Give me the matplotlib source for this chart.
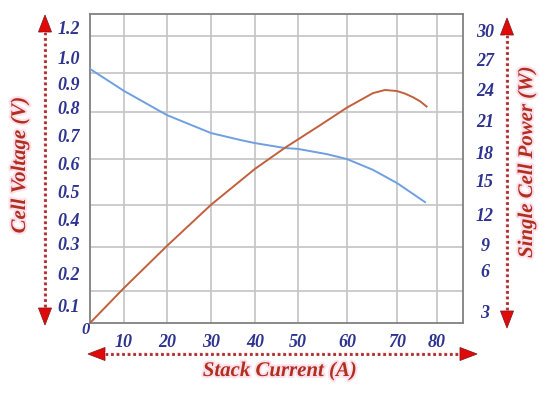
import numpy as np
import matplotlib
matplotlib.use("Agg")
import matplotlib.pyplot as plt
from matplotlib.lines import Line2D
from matplotlib.patches import Polygon
import matplotlib.patheffects as pe

# ---------------- data ----------------
current_ticks = [10, 20, 30, 40, 50, 60, 70, 80]
current_tick_labels = ["10", "20", "30", "40", "50", "60", "70", "80"]
voltage_ticks = [0.1, 0.2, 0.3, 0.4, 0.5, 0.6, 0.7, 0.8, 0.9, 1.0, 1.2]
voltage_tick_labels = ["0.1", "0.2", "0.3", "0.4", "0.5", "0.6", "0.7", "0.8", "0.9", "1.0", "1.2"]
power_ticks = [3, 6, 9, 12, 15, 18, 21, 24, 27, 30]
power_tick_labels = ["3", "6", "9", "12", "15", "18", "21", "24", "27", "30"]

voltage_current = [0, 10, 20, 30, 36.6, 40, 47, 50, 55.9, 60, 65.2, 70, 77]
cell_voltage = [0.954, 0.867, 0.771, 0.707, 0.683, 0.672, 0.655, 0.652, 0.634, 0.617, 0.579, 0.532, 0.464]

power_current = [0, 10, 20, 30, 40, 47, 54.5, 60, 62.6, 65.2, 67.6, 70, 72, 74, 75.8, 77.4]
cell_power = [0, 4.76, 8.9, 12.9, 16.3, 18.5, 20.6, 22.3, 23.0, 23.7, 24.0, 23.9, 23.65, 23.3, 22.9, 22.4]

# ---------------- layout (pixels of a 550x396 canvas) ----------------
W, H = 550, 396
AX_L, AX_R, AX_T, AX_B = 90, 463, 14, 323

# irregular axis scales of the original picture: value -> pixel anchors
x_anchor_vals = [0, 10, 20, 30, 40, 50, 60, 70, 80, 86]
x_anchor_px = [90, 124, 167, 211, 255, 298, 347, 397, 437, 463]
vl_anchor_vals = [0, 0.1, 0.2, 0.3, 0.4, 0.5, 0.6, 0.7, 0.8, 0.9, 1.0, 1.2, 1.3]
vl_anchor_px = [323, 305, 273, 244, 220, 192, 164, 135, 107, 83, 57, 28, 14]
pw_anchor_vals = [0, 3, 6, 9, 12, 15, 18, 21, 24, 27, 30, 31.8]
pw_anchor_px = [323, 312, 271, 245, 215, 181, 153, 121, 90, 60, 31, 14]
hgrid_px = [36, 73, 112, 159, 205, 247, 291]

NAVY = "#2d338f"
TITLE = "#b0301e"
GLOW = [pe.withStroke(linewidth=3, foreground="#ffe1ee")]

plt.rcParams["font.family"] = ["Liberation Serif", "DejaVu Serif"]
plt.rcParams["font.weight"] = "bold"
plt.rcParams["font.style"] = "italic"


def piecewise(vals, pos):
    vals = np.asarray(vals, float)
    pos = np.asarray(pos, float)

    def _map(v, a, b):
        v = np.asarray(v, float)
        out = np.interp(v, a, b)
        s0 = (b[1] - b[0]) / (a[1] - a[0])
        s1 = (b[-1] - b[-2]) / (a[-1] - a[-2])
        out = np.where(v < a[0], b[0] + (v - a[0]) * s0, out)
        out = np.where(v > a[-1], b[-1] + (v - a[-1]) * s1, out)
        return out

    return (lambda v: _map(v, vals, pos)), (lambda p: _map(p, pos, vals))


fx, ix = piecewise(x_anchor_vals, x_anchor_px)
fl, il = piecewise(vl_anchor_vals, [H - p for p in vl_anchor_px])
fr, ir = piecewise(pw_anchor_vals, [H - p for p in pw_anchor_px])

fig = plt.figure(figsize=(W / 100, H / 100), dpi=100)
ax = fig.add_axes([AX_L / W, 1 - AX_B / H, (AX_R - AX_L) / W, (AX_B - AX_T) / H])
ax.set_xscale("function", functions=(fx, ix))
ax.set_yscale("function", functions=(fl, il))
ax.set_xlim(x_anchor_vals[0], x_anchor_vals[-1])
ax.set_ylim(vl_anchor_vals[0], vl_anchor_vals[-1])

ax2 = ax.twinx()
ax2.set_yscale("function", functions=(fr, ir))
ax2.set_ylim(pw_anchor_vals[0], pw_anchor_vals[-1])

# ticks
ax.set_xticks(current_ticks, current_tick_labels)
ax.set_yticks(voltage_ticks, voltage_tick_labels)
ax.set_yticks(il(H - np.array(hgrid_px, float)), minor=True)
ax.xaxis.set_minor_locator(matplotlib.ticker.NullLocator())
ax2.set_yticks(power_ticks, power_tick_labels)
ax2.yaxis.set_minor_locator(matplotlib.ticker.NullLocator())

ax.tick_params(axis="x", which="both", length=0, pad=8, labelsize=13, labelcolor=NAVY)
ax.tick_params(axis="y", which="both", length=0, pad=7, labelsize=13, labelcolor=NAVY)
ax2.tick_params(axis="y", which="both", length=0, pad=15.8, labelsize=13, labelcolor=NAVY)
for lab in ax2.get_yticklabels():
    lab.set_ha("center")

# grid
ax.grid(axis="x", which="major", color="#c4c4c4", lw=1.2)
ax.grid(axis="y", which="major", visible=False)
ax.grid(axis="y", which="minor", color="#c4c4c4", lw=1.2)
ax.set_axisbelow(True)

for s in ax.spines.values():
    s.set_color("#808080")
    s.set_linewidth(1.3)
for s in ax2.spines.values():
    s.set_visible(False)

# curves
ax.plot(voltage_current, cell_voltage, color="#6f9fe0", lw=1.4, zorder=3)
ax2.plot(power_current, cell_power, color="#c2603e", lw=1.4, zorder=3)

# texts
def ftext(x, y, s, **kw):
    return fig.text(x / W, 1 - y / H, s, **kw)

ftext(86, 330, "0", ha="center", va="center", fontsize=12, color=NAVY)
ftext(20, 165, "Cell Voltage (V)", rotation=90, ha="center", va="center",
      fontsize=15, color=TITLE, path_effects=GLOW)
ftext(527, 162, "Single Cell Power (W)", rotation=90, ha="center", va="center",
      fontsize=15, color=TITLE, path_effects=GLOW)
ftext(280, 371, "Stack Current (A)", ha="center", va="center",
      fontsize=15, color=TITLE, path_effects=GLOW)


def double_arrow(p0, p1, L=17, w=13):
    p0 = np.array(p0, float)
    p1 = np.array(p1, float)
    d = (p1 - p0) / np.linalg.norm(p1 - p0)
    n = np.array([-d[1], d[0]])
    b0 = p0 + d * L
    b1 = p1 - d * L
    conv = lambda pts: [(x / W, 1 - y / H) for x, y in pts]
    fig.add_artist(Line2D(*zip(*conv([b0, b1])), transform=fig.transFigure,
                          color="#a8302a", lw=2.0, ls=(0, (1.0, 1.0)),
                          path_effects=GLOW))
    for tip, base in ((p0, b0), (p1, b1)):
        tri = conv([tip, base + n * w / 2, base - n * w / 2])
        fig.add_artist(Polygon(tri, closed=True, transform=fig.transFigure,
                               facecolor="#e00a0a", edgecolor="#8b1a1a", lw=0.6))


double_arrow((45, 15), (45, 325))
double_arrow((507, 18), (507, 328))
double_arrow((88, 354), (477, 354))

fig.savefig("out.png", dpi=100)
